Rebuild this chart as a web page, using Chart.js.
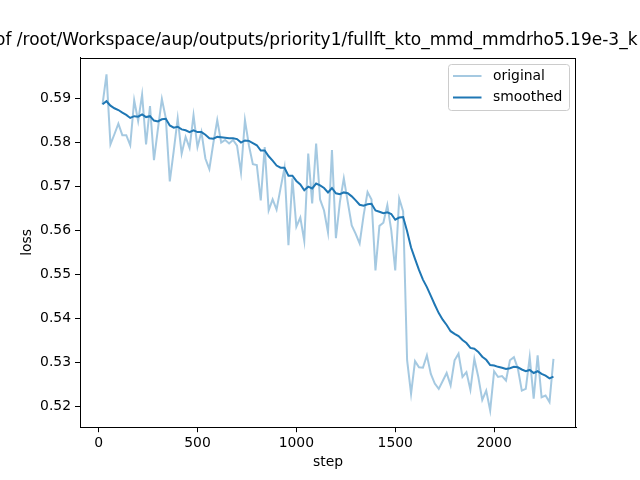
<!DOCTYPE html>
<html>
<head>
<meta charset="utf-8">
<script src="https://cdn.jsdelivr.net/npm/chart.js@4/dist/chart.umd.min.js"></script>
<style>
html,body{margin:0;padding:0;background:#fff;}
#c{display:block;}
</style>
</head>
<body>
<canvas id="c" width="640" height="480"></canvas>
<script>
const titleText = "of /root/Workspace/aup/outputs/priority1/fullft_kto_mmd_mmdrho5.19e-3_k";
const xLabel = "step";
const yLabel = "loss";
const seriesNames = ["original", "smoothed"];

const steps = [20,40,60,80,100,120,140,160,180,200,220,240,260,280,300,320,340,360,380,400,
420,440,460,480,500,520,540,560,580,600,620,640,660,680,700,720,740,760,780,800,
820,840,860,880,900,920,940,960,980,1000,1020,1040,1060,1080,1100,1120,1140,1160,1180,1200,
1220,1240,1260,1280,1300,1320,1340,1360,1380,1400,1420,1440,1460,1480,1500,1520,1540,1560,1580,1600,
1620,1640,1660,1680,1700,1720,1740,1760,1780,1800,1820,1840,1860,1880,1900,1920,1940,1960,1980,2000,
2020,2040,2060,2080,2100,2120,2140,2160,2180,2200,2220,2240,2260,2280,2300];

const original = [0.5886,0.5954,0.5795,0.5818,0.5842,0.5816,0.5816,0.5793,0.5895,0.5848,
0.5908,0.5795,0.5882,0.5759,0.5830,0.5898,0.5854,0.5711,0.5780,0.5854,
0.5774,0.5812,0.5787,0.5861,0.5789,0.5823,0.5763,0.5739,0.5797,0.5850,
0.5799,0.5805,0.5797,0.5805,0.5792,0.5731,0.5850,0.5793,0.5750,0.5748,
0.5668,0.5789,0.5645,0.5670,0.5647,0.5695,0.5742,0.5566,0.5718,0.5608,
0.5629,0.5576,0.5774,0.5661,0.5797,0.5670,0.5645,0.5595,0.5782,0.5582,
0.5664,0.5718,0.5664,0.5611,0.5592,0.5570,0.5634,0.5687,0.5670,0.5509,
0.5610,0.5617,0.5657,0.5600,0.5509,0.5672,0.5643,0.5305,0.5229,0.5303,
0.5289,0.5288,0.5316,0.5274,0.5252,0.5240,0.5258,0.5276,0.5248,0.5305,
0.5320,0.5267,0.5278,0.5238,0.5308,0.5267,0.5215,0.5236,0.5191,0.5280,
0.5267,0.5269,0.5259,0.5305,0.5312,0.5286,0.5236,0.5240,0.5312,0.5218,
0.5316,0.5221,0.5225,0.5210,0.5308];

const smoothed = [0.5886,0.5893,0.5883,0.5877,0.5873,0.5867,0.5862,0.5855,0.5859,0.5858,
0.5863,0.5857,0.5859,0.5849,0.5847,0.5852,0.5853,0.5838,0.5833,0.5835,
0.5829,0.5827,0.5823,0.5827,0.5823,0.5823,0.5817,0.5809,0.5808,0.5812,
0.5811,0.5810,0.5809,0.5809,0.5807,0.5799,0.5804,0.5803,0.5798,0.5793,
0.5781,0.5781,0.5768,0.5758,0.5747,0.5742,0.5742,0.5724,0.5724,0.5712,
0.5704,0.5691,0.5699,0.5695,0.5706,0.5702,0.5696,0.5686,0.5696,0.5684,
0.5682,0.5686,0.5684,0.5677,0.5668,0.5658,0.5656,0.5659,0.5660,0.5645,
0.5642,0.5639,0.5641,0.5637,0.5624,0.5629,0.5630,0.5598,0.5561,0.5535,
0.5510,0.5488,0.5471,0.5451,0.5431,0.5412,0.5397,0.5385,0.5371,0.5365,
0.5360,0.5351,0.5344,0.5333,0.5331,0.5324,0.5313,0.5306,0.5294,0.5293,
0.5290,0.5288,0.5285,0.5287,0.5290,0.5289,0.5284,0.5280,0.5283,0.5276,
0.5280,0.5274,0.5270,0.5264,0.5268];

const xTicks = [0,500,1000,1500,2000];
const yTicks = [0.52,0.53,0.54,0.55,0.56,0.57,0.58,0.59];

const FONT = "DejaVu Sans";
const C_SMOOTH = "#1f77b4";
const C_ORIG = "rgba(31,119,180,0.4)";

const decor = {
  id: 'decor',
  afterDraw(chart) {
    const ctx = chart.ctx;
    const a = chart.chartArea;
    ctx.save();
    // frame
    ctx.strokeStyle = '#000';
    ctx.lineWidth = 1;
    ctx.strokeRect(Math.round(a.left) + 0.5, Math.round(a.top) + 0.5,
                   Math.round(a.right - a.left) - 1, Math.round(a.bottom - a.top) - 1);
    // title
    ctx.fillStyle = '#000';
    ctx.font = '17px "' + FONT + '"';
    ctx.textAlign = 'left';
    ctx.textBaseline = 'alphabetic';
    ctx.fillText(titleText, -5, 45);
    // axis labels
    ctx.font = '13.9px "' + FONT + '"';
    ctx.textAlign = 'center';
    ctx.textBaseline = 'middle';
    ctx.fillText(xLabel, (a.left + a.right) / 2, 462);
    ctx.save();
    ctx.translate(27, (a.top + a.bottom) / 2);
    ctx.rotate(-Math.PI / 2);
    ctx.fillText(yLabel, 0, 0);
    ctx.restore();
    // legend
    const lx = 448.5, ly = 64.5, lw = 121, lh = 46;
    ctx.beginPath();
    ctx.roundRect(lx, ly, lw, lh, 3);
    ctx.fillStyle = 'rgba(255,255,255,0.8)';
    ctx.fill();
    ctx.strokeStyle = '#cccccc';
    ctx.lineWidth = 1;
    ctx.stroke();
    const entries = [[seriesNames[0], C_ORIG, 76], [seriesNames[1], C_SMOOTH, 97.5]];
    ctx.textAlign = 'left';
    ctx.textBaseline = 'middle';
    ctx.font = '13.9px "' + FONT + '"';
    for (const [name, col, y] of entries) {
      ctx.beginPath();
      ctx.moveTo(453, y);
      ctx.lineTo(481.5, y);
      ctx.strokeStyle = col;
      ctx.lineWidth = 2;
      ctx.stroke();
      ctx.fillStyle = '#000';
      ctx.fillText(name, 493, y);
    }
    ctx.restore();
  }
};

const tickFont = { family: FONT, size: 13.9 };

new Chart(document.getElementById('c'), {
  type: 'line',
  data: {
    datasets: [
      {
        label: seriesNames[0],
        data: steps.map((s, i) => ({ x: s, y: original[i] })),
        borderColor: C_ORIG,
        borderWidth: 2,
        pointRadius: 0,
        tension: 0,
        fill: false,
        order: 1
      },
      {
        label: seriesNames[1],
        data: steps.map((s, i) => ({ x: s, y: smoothed[i] })),
        borderColor: C_SMOOTH,
        borderWidth: 2,
        pointRadius: 0,
        tension: 0,
        fill: false,
        order: 0
      }
    ]
  },
  options: {
    responsive: false,
    animation: false,
    devicePixelRatio: 1,
    layout: { padding: { top: 57.6, right: 64, left: 0, bottom: 0 } },
    plugins: {
      legend: { display: false },
      title: { display: false },
      tooltip: { enabled: false }
    },
    scales: {
      x: {
        type: 'linear',
        min: -94,
        max: 2414,
        afterBuildTicks: (s) => { s.ticks = xTicks.map(v => ({ value: v })); },
        afterFit: (s) => { s.height = 52.8; },
        ticks: {
          color: '#000',
          font: tickFont,
          padding: 3,
          maxRotation: 0,
          autoSkip: false,
          callback: (v) => String(v)
        },
        grid: {
          drawOnChartArea: false,
          drawTicks: true,
          tickLength: 5,
          tickColor: '#000',
          tickWidth: 1
        },
        border: { display: true, color: '#000', width: 1 }
      },
      y: {
        type: 'linear',
        min: 0.5153,
        max: 0.5992,
        afterBuildTicks: (s) => { s.ticks = yTicks.map(v => ({ value: v })); },
        afterFit: (s) => { s.width = 80; },
        ticks: {
          color: '#000',
          font: tickFont,
          padding: 4,
          autoSkip: false,
          callback: (v) => Number(v).toFixed(2)
        },
        grid: {
          drawOnChartArea: false,
          drawTicks: true,
          tickLength: 5,
          tickColor: '#000',
          tickWidth: 1
        },
        border: { display: true, color: '#000', width: 1 }
      }
    }
  },
  plugins: [decor]
});
</script>
</body>
</html>
